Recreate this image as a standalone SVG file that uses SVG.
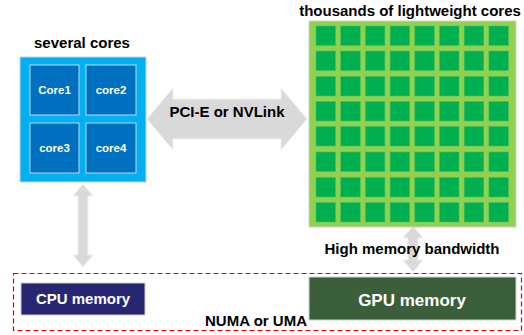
<svg xmlns="http://www.w3.org/2000/svg" width="524" height="335" viewBox="0 0 524 335">
<style>
text{font-family:"Liberation Sans",Arial,sans-serif;font-weight:bold;text-anchor:middle}
.lbl{font-size:15px;fill:#000}
.core{fill:#0070c0;stroke:#bdd7ee;stroke-width:1}
.ctext{font-size:11.5px;fill:#fff}
.g{fill:#00b050;stroke:#3cc060;stroke-width:0.6}
.arrow{fill:#d9d9d9;stroke:#f0f0f0;stroke-width:1}
.mem{font-size:15px;fill:#fff}
</style>
<rect width="524" height="335" fill="#fff"/>
<g id="connectors">
<polygon class="arrow" points="147,119 173,88 173,99 281,99 281,88 307,119 281,150 281,139 173,139 173,150"/>
<polygon class="arrow" points="83,184 93,196 88,196 88,255 93,255 83,267 73,255 78,255 78,196 73,196"/>
<polygon class="arrow" points="413,226 423,238 418,238 418,260 423,260 413,272 403,260 408,260 408,238 403,238"/>
</g>
<g id="pci-label"><text class="lbl" x="227" y="117">PCI-E or NVLink</text></g>
<g id="cpu">
<text class="lbl" x="82" y="48">several cores</text>
<rect x="20" y="57" width="126" height="125" fill="#00b0f0" stroke="#d0d0d0" stroke-width="1"/>
<g id="core1"><rect class="core" x="30" y="65" width="49" height="50"/><text class="ctext" x="54.5" y="94">Core1</text></g>
<g id="core2"><rect class="core" x="86" y="65" width="50" height="50"/><text class="ctext" x="111" y="94">core2</text></g>
<g id="core3"><rect class="core" x="30" y="123" width="49" height="50"/><text class="ctext" x="54.5" y="152">core3</text></g>
<g id="core4"><rect class="core" x="86" y="123" width="50" height="50"/><text class="ctext" x="111" y="152">core4</text></g>
</g>
<g id="gpu">
<text class="lbl" x="410" y="16">thousands of lightweight cores</text>
<rect x="309" y="21" width="207" height="206" fill="#92d050" stroke="#d0d0d0" stroke-width="1"/>
<defs>
<g id="row">
<rect class="g" x="316" y="0" width="19.5" height="19.5"/>
<rect class="g" x="340.7" y="0" width="19.5" height="19.5"/>
<rect class="g" x="365.4" y="0" width="19.5" height="19.5"/>
<rect class="g" x="390.1" y="0" width="19.5" height="19.5"/>
<rect class="g" x="414.8" y="0" width="19.5" height="19.5"/>
<rect class="g" x="439.5" y="0" width="19.5" height="19.5"/>
<rect class="g" x="464.2" y="0" width="19.5" height="19.5"/>
<rect class="g" x="488.9" y="0" width="19.5" height="19.5"/>
</g>
</defs>
<use href="#row" y="26"/>
<use href="#row" y="51"/>
<use href="#row" y="76.5"/>
<use href="#row" y="101.5"/>
<use href="#row" y="126.5"/>
<use href="#row" y="152"/>
<use href="#row" y="177.5"/>
<use href="#row" y="202.5"/>
</g>
<g id="bandwidth-label"><text class="lbl" x="412" y="254">High memory bandwidth</text></g>
<g id="numa">
<rect x="13.5" y="273.5" width="508" height="57" fill="none" stroke="#e00000" stroke-width="1.2" stroke-dasharray="5,3"/>
<text class="lbl" x="256" y="326">NUMA or UMA</text>
</g>
<g id="cpu-memory">
<rect x="21" y="283" width="124" height="32" fill="#262673" stroke="#d0d0d0" stroke-width="1"/>
<text class="mem" x="83" y="304">CPU memory</text>
</g>
<g id="gpu-memory">
<rect x="309" y="277" width="207" height="43" fill="#3b5e3b" stroke="#d0d0d0" stroke-width="1"/>
<text class="mem" style="font-size:17px" x="412" y="306">GPU memory</text>
</g>
</svg>
